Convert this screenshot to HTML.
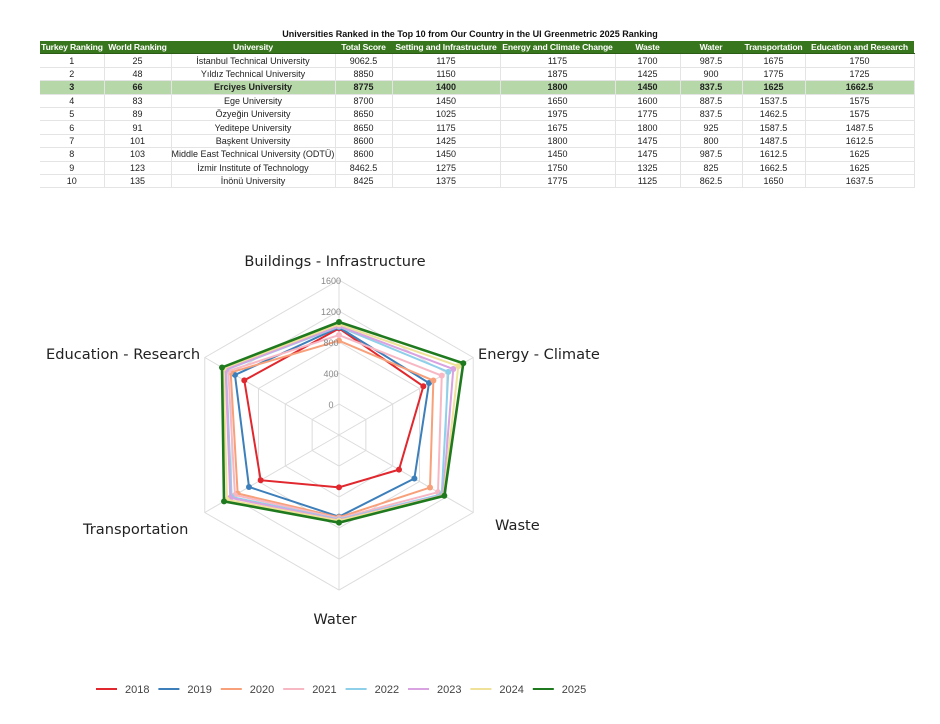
<!DOCTYPE html>
<html><head><meta charset="utf-8">
<style>
body{margin:0;width:940px;height:724px;background:#fff;font-family:"Liberation Sans",Arial,sans-serif;position:relative;overflow:hidden}
#title{position:absolute;left:0;width:940px;top:29px;text-align:center;font-size:9px;font-weight:bold;color:#111}
table{position:absolute;left:40px;top:41px;border-collapse:collapse;font-size:9px;color:#222;table-layout:fixed;width:874px}
td,th{height:12.4px;padding:0;text-align:center;border-right:1px solid #e4e4e4;border-bottom:1px solid #e4e4e4;white-space:nowrap;overflow:visible;line-height:12px}
th{background:#38761d;color:#fff;font-weight:bold;border-right:none;border-bottom:1px solid #2a5c15;font-size:8.6px;letter-spacing:-0.15px}
tr.hl td{background:#b6d7a8;font-weight:bold}
svg{position:absolute;left:0;top:0}
</style></head><body>
<div id="title">Universities Ranked in the Top 10 from Our Country in the UI Greenmetric 2025 Ranking</div>
<table>
<colgroup><col style="width:64px"><col style="width:67px"><col style="width:164px"><col style="width:57px"><col style="width:108px"><col style="width:115px"><col style="width:65px"><col style="width:62px"><col style="width:63px"><col style="width:109px"></colgroup>
<tr><th>Turkey Ranking</th><th>World Ranking</th><th>University</th><th>Total Score</th><th>Setting and Infrastructure</th><th>Energy and Climate Change</th><th>Waste</th><th>Water</th><th>Transportation</th><th>Education and Research</th></tr>
<tr><td>1</td><td>25</td><td>İstanbul Technical University</td><td>9062.5</td><td>1175</td><td>1175</td><td>1700</td><td>987.5</td><td>1675</td><td>1750</td></tr>
<tr><td>2</td><td>48</td><td>Yıldız Technical University</td><td>8850</td><td>1150</td><td>1875</td><td>1425</td><td>900</td><td>1775</td><td>1725</td></tr>
<tr class="hl"><td>3</td><td>66</td><td>Erciyes University</td><td>8775</td><td>1400</td><td>1800</td><td>1450</td><td>837.5</td><td>1625</td><td>1662.5</td></tr>
<tr><td>4</td><td>83</td><td>Ege University</td><td>8700</td><td>1450</td><td>1650</td><td>1600</td><td>887.5</td><td>1537.5</td><td>1575</td></tr>
<tr><td>5</td><td>89</td><td>Özyeğin University</td><td>8650</td><td>1025</td><td>1975</td><td>1775</td><td>837.5</td><td>1462.5</td><td>1575</td></tr>
<tr><td>6</td><td>91</td><td>Yeditepe University</td><td>8650</td><td>1175</td><td>1675</td><td>1800</td><td>925</td><td>1587.5</td><td>1487.5</td></tr>
<tr><td>7</td><td>101</td><td>Başkent University</td><td>8600</td><td>1425</td><td>1800</td><td>1475</td><td>800</td><td>1487.5</td><td>1612.5</td></tr>
<tr><td>8</td><td>103</td><td>Middle East Technical University (ODTÜ)</td><td>8600</td><td>1450</td><td>1450</td><td>1475</td><td>987.5</td><td>1612.5</td><td>1625</td></tr>
<tr><td>9</td><td>123</td><td>İzmir Institute of Technology</td><td>8462.5</td><td>1275</td><td>1750</td><td>1325</td><td>825</td><td>1662.5</td><td>1625</td></tr>
<tr><td>10</td><td>135</td><td>İnönü University</td><td>8425</td><td>1375</td><td>1775</td><td>1125</td><td>862.5</td><td>1650</td><td>1637.5</td></tr>
</table>
<svg id="chart" width="940" height="724"></svg>
<script>
const axisLabels=["Buildings - Infrastructure","Energy - Climate","Waste","Water","Transportation","Education - Research"];
const years=["2018","2019","2020","2021","2022","2023","2024","2025"];
const colors=["#e0282e","#3d7fba","#f7a07a","#f7b8c4","#8ecfea","#d9a2e0","#efe197","#1f7a1f"];
const s2018=[975,857,494,275,767,1011];
const s2019=[989,941,723,654,941,1150];
const s2020=[817,1006,956,662,1110,1214];
const s2021=[890,1131,1075,675,1150,1249];
const s2022=[998,1229,1131,688,1200,1283];
const s2023=[1006,1303,1150,697,1220,1290];
const s2024=[1028,1378,1160,705,1270,1320];
const s2025=[1058,1452,1169,731,1313,1343];
const ticks=[0,400,800,1200,1600];
const series=[s2018,s2019,s2020,s2021,s2022,s2023,s2024,s2025];
const NS="http://www.w3.org/2000/svg";
const svg=document.getElementById('chart');
const cx=339,cy=435,R=155,vmin=-400,vmax=1600;
function rad(v){return (v-vmin)/(vmax-vmin)*R;}
function pt(i,v){const a=(-90+60*i)*Math.PI/180;const r=rad(v);return [cx+r*Math.cos(a),cy+r*Math.sin(a)];}
function mk(t,attrs){const e=document.createElementNS(NS,t);for(const k in attrs)e.setAttribute(k,attrs[k]);svg.appendChild(e);return e;}
for(let v=0;v<=vmax;v+=400){const p=[];for(let i=0;i<6;i++)p.push(pt(i,v).join(','));
const g=mk('polygon',{points:p.join(' '),fill:'none',stroke:'#dcdcdc','stroke-width':1});

}
for(let i=0;i<6;i++){const p=pt(i,vmax);const l=mk('line',{x1:cx,y1:cy,x2:p[0],y2:p[1],stroke:'#dcdcdc','stroke-width':1});

}
series.forEach((s,k)=>{const p=s.map((v,i)=>pt(i,v));
const pl=mk('polygon',{points:p.map(q=>q.join(',')).join(' '),fill:'none',stroke:colors[k],'stroke-width':k==7?2.6:2});


p.forEach(q=>{const c=mk('circle',{cx:q[0],cy:q[1],r:3,fill:colors[k]});

});});
ticks.forEach(v=>{const y=cy-rad(v);
const t=mk('text',{x:331,y:y+4,'font-size':9,fill:'#888','text-anchor':'middle','font-family':'Liberation Sans, sans-serif'});t.textContent=v;

});
const lp=[[335,266,'middle'],[478,359,'start'],[495,530,'start'],[335,624,'middle'],[83,534,'start'],[46,359,'start']];
axisLabels.forEach((s,i)=>{const t=mk('text',{x:lp[i][0],y:lp[i][1],'font-size':14.6,fill:'#222','text-anchor':lp[i][2],'font-family':'DejaVu Sans, sans-serif'});t.textContent=s;

});
years.forEach((y,k)=>{const x=96+62.4*k;
const l=mk('line',{x1:x,y1:689,x2:x+21,y2:689,stroke:colors[k],'stroke-width':2});


const t=mk('text',{x:x+29,y:693,'font-size':11,fill:'#444','font-family':'Liberation Sans, sans-serif'});t.textContent=y;

});
</script>
</body></html>
